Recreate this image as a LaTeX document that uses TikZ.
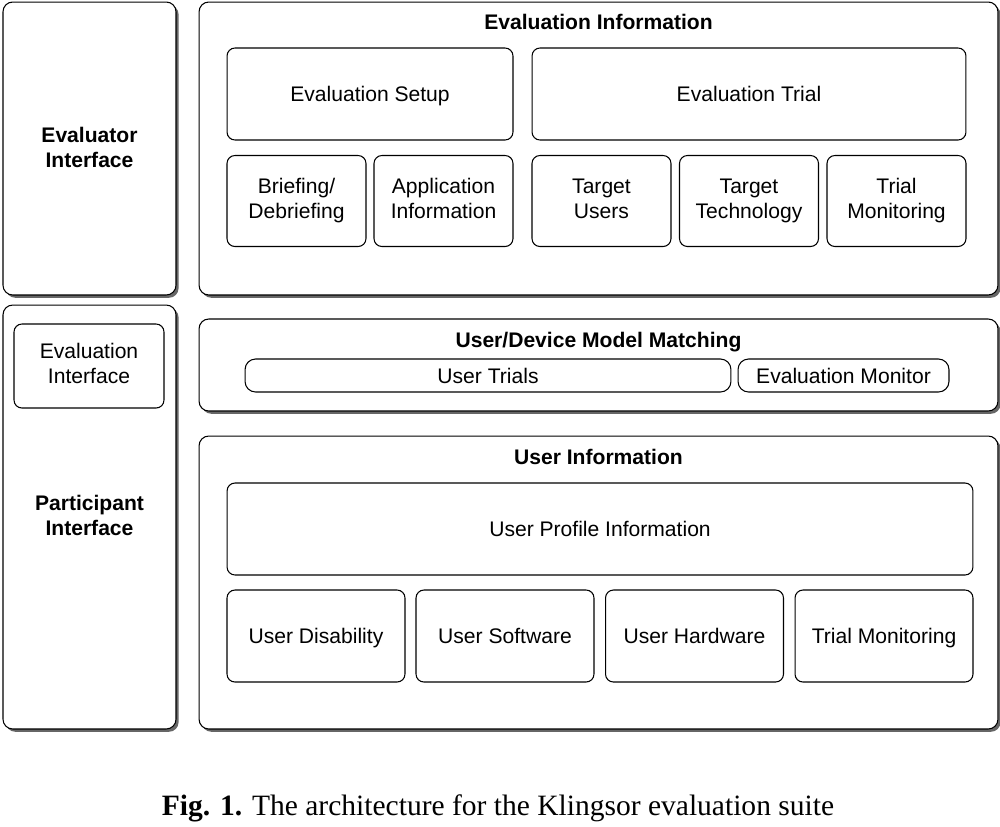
\documentclass[tikz,border=0pt]{standalone}
\usepackage{fontspec}
\setmainfont{Liberation Sans}
\newfontfamily\capfont{Liberation Serif}
\usetikzlibrary{shadows}

\newcommand{\bxstrut}{\rule[-2.5pt]{0pt}{13.6pt}}
\tikzstyle{layer}=[draw, rounded corners=5.5pt, line width=0.6pt, fill=white, inner sep=0pt,
  drop shadow={shadow xshift=1.5pt, shadow yshift=-1.6pt, fill=black, opacity=0.6}]
\tikzstyle{part}=[draw, rounded corners=4.5pt, line width=0.6pt, fill=white, inner sep=0pt,
  align=center, font=\fontsize{12}{14.2}\selectfont,
  execute at begin node=\bxstrut, execute at end node=\bxstrut]
\tikzstyle{ttl}=[inner sep=0pt, align=center, font=\fontsize{12}{14.2}\selectfont\bfseries,
  execute at begin node=\bxstrut, execute at end node=\bxstrut]

\begin{document}
\begin{tikzpicture}[x=0.02cm, y=-0.02cm]
      \useasboundingbox (0, 0) rectangle (1000, 826);

      % left column
      \node[layer, minimum width=3.46cm, minimum height=5.86cm] (evr) at (89.5, 148.5) {};
      \node[layer, minimum width=3.46cm, minimum height=8.48cm] (par) at (89.5, 517) {};
      \node[ttl] (evrt) at (89.5, 150) {Evaluator\\Interface};
      \node[ttl] (part) at (89.5, 518) {Participant\\Interface};
      \node[part, minimum width=3.0cm, minimum height=1.68cm] (evif) at (89, 366) {Evaluation\\Interface};

      % evaluation information
      \node[layer, minimum width=15.98cm, minimum height=5.86cm] (evinfo) at (598.5, 148.5) {};
      \node[ttl] (evinfot) at (598.5, 22) {Evaluation Information};
      \node[part, minimum width=5.72cm, minimum height=1.84cm] (setup) at (370, 94) {Evaluation Setup};
      \node[part, minimum width=8.68cm, minimum height=1.84cm] (trial) at (749, 94) {Evaluation Trial};
      \node[part, minimum width=2.78cm, minimum height=1.82cm] (brief) at (296.5, 201) {Briefing/\\Debriefing};
      \node[part, minimum width=2.78cm, minimum height=1.82cm] (appl) at (443.5, 201) {Application\\Information};
      \node[part, minimum width=2.78cm, minimum height=1.82cm] (tusers) at (601.5, 201) {Target\\Users};
      \node[part, minimum width=2.78cm, minimum height=1.82cm] (ttech) at (749, 201) {Target\\Technology};
      \node[part, minimum width=2.78cm, minimum height=1.82cm] (tmon) at (896.5, 201) {Trial\\Monitoring};

      % matching
      \node[layer, minimum width=15.98cm, minimum height=1.84cm] (match) at (598.5, 365) {};
      \node[ttl] (matcht) at (598.5, 340) {User/Device Model Matching};
      \node[part, rounded corners=6pt, minimum width=9.72cm, minimum height=0.66cm] (utrials) at (488, 375.5) {User Trials};
      \node[part, rounded corners=6pt, minimum width=4.22cm, minimum height=0.66cm] (evmon) at (843.5, 375.5) {Evaluation Monitor};

      % user information
      \node[layer, minimum width=15.98cm, minimum height=5.86cm] (uinfo) at (598.5, 582.5) {};
      \node[ttl] (uinfot) at (598.5, 457) {User Information};
      \node[part, minimum width=14.92cm, minimum height=1.84cm] (profile) at (600, 529) {User Profile Information};
      \node[part, minimum width=3.56cm, minimum height=1.84cm] (udis) at (316, 636) {User Disability};
      \node[part, minimum width=3.56cm, minimum height=1.84cm] (usoft) at (505, 636) {User Software};
      \node[part, minimum width=3.56cm, minimum height=1.84cm] (uhard) at (694.5, 636) {User Hardware};
      \node[part, minimum width=3.56cm, minimum height=1.84cm] (umon) at (884, 636) {Trial Monitoring};

      \node[inner sep=0pt, font=\capfont\fontsize{16.8}{20}\selectfont] (cap) at (498, 808)
        {\textbf{Fig. 1.} The architecture for the Klingsor evaluation suite};
    \end{tikzpicture}
\end{document}
